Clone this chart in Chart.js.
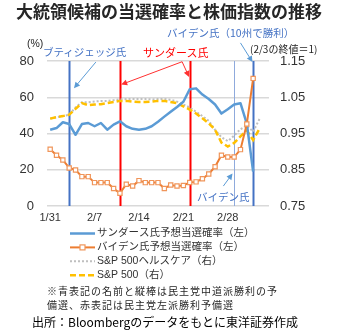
<!DOCTYPE html>
<html>
<head>
<meta charset="utf-8">
<script src="https://cdn.jsdelivr.net/npm/chart.js@4.4.1/dist/chart.umd.min.js"></script>
<style>
body { margin: 0; background: #fff; }
#wrap { position: relative; width: 340px; height: 330px; overflow: hidden; font-family: "Noto Sans CJK JP", sans-serif; color: #262626; }
canvas { position: absolute; left: 0; top: 0; }
.t { position: absolute; white-space: nowrap; line-height: 14px; font-size: 10.5px; }
</style>
</head>
<body>
<div id="wrap">
<canvas id="c" width="340" height="330"></canvas>
<div class="t" style="left:0;width:338px;text-align:center;top:1px;line-height:20px;font-size:17px;font-weight:bold;">大統領候補の当選確率と株価指数の推移</div>
<div class="t" style="left:27px;top:36px;font-family:'Liberation Sans','Noto Sans CJK JP';font-size:10.5px;">(%)</div>
<div class="t" style="left:43px;top:45px;color:#4472C4;">ブティジェッジ氏</div>
<div class="t" style="left:143px;top:45px;color:#FF0000;font-size:11px;">サンダース氏</div>
<div class="t" style="left:167px;top:26px;color:#4472C4;">バイデン氏（10州で勝利）</div>
<div class="t" style="left:250px;top:42px;font-size:10px;">(2/3の終値＝1)</div>
<div class="t" style="left:197px;top:190px;color:#4472C4;">バイデン氏</div>
<div class="t" style="left:47px;top:284px;font-size:10px;letter-spacing:1px;">※青表記の名前と縦棒は民主党中道派勝利の予</div>
<div class="t" style="left:47px;top:298px;font-size:10px;letter-spacing:1px;">備選、赤表記は民主党左派勝利予備選</div>
<div class="t" style="left:32px;top:314px;font-size:12px;line-height:16px;color:#000;">出所：Bloombergのデータをもとに東洋証券作成</div>
</div>
<script>
// 1/31 - 3/5 (daily)
const dates = ['1/31','2/1','2/2','2/3','2/4','2/5','2/6','2/7','2/8','2/9','2/10','2/11','2/12','2/13','2/14',
  '2/15','2/16','2/17','2/18','2/19','2/20','2/21','2/22','2/23','2/24','2/25','2/26','2/27','2/28','2/29',
  '3/1','3/2','3/3','3/4','3/5'];
const shownDates = ['1/31','2/7','2/14','2/21','2/28'];

// left axis (%)
const sanders = [42.1,43.0,46.2,45.2,39.3,45.2,45.8,44.0,45.8,42.1,44.9,46.7,44.0,42.6,42.1,42.6,44.0,46.5,49.3,
  52.0,54.6,57.5,64.4,64.9,61.5,59.0,56.0,51.0,53.4,56.0,56.7,45.5,19.0];
const biden = [31.3,28.0,25.4,21.0,19.9,16.2,16.2,12.9,12.9,12.9,9.7,7.0,12.0,11.0,14.0,12.9,12.9,12.9,9.7,
  11.6,11.0,11.3,13.0,13.3,15.0,17.7,21.7,28.0,27.0,27.0,31.1,45.2,70.4];

// right axis (2/3 close = 1)
const healthcare = [0.991,0.995,0.998,1.002,1.022,1.036,1.036,1.038,1.040,1.040,1.042,1.044,1.045,1.045,1.045,
  1.045,1.044,1.045,1.045,1.043,1.038,1.030,1.022,1.010,0.998,0.985,0.960,0.940,0.929,0.944,0.962,0.972,0.955,0.990];
const sp500 = [0.991,0.995,0.998,1.002,1.018,1.034,1.028,1.030,1.031,1.034,1.037,1.040,1.040,1.038,1.037,
  1.037,1.038,1.040,1.040,1.037,1.034,1.025,1.016,1.005,0.992,0.978,0.960,0.925,0.914,0.924,0.942,0.958,0.932,0.963];

const leftTicks = [0, 20, 40, 60, 80];
const rightTicks = [0.75, 0.85, 0.95, 1.05, 1.15];

// primaries: Iowa, New Hampshire, Nevada, South Carolina, Super Tuesday
const primaryDates = ['2/3','2/11','2/22','2/29','3/3'];
const primaryStyle = [
  { color: '#4472C4', width: 2 },
  { color: '#FF0000', width: 2 },
  { color: '#FF0000', width: 2 },
  { color: '#8FAADC', width: 1 },
  { color: '#4472C4', width: 2 }
];

// annotation arrows in data units [category index, left-axis value]
const arrows = [
  { from: [7.2, 79.4], to: [3.75, 65.0], color: '#5B9BD5' },
  { from: [20.8, 79.6], to: [11.2, 67.0], color: '#FF3030' },
  { from: [20.8, 79.6], to: [21.9, 71.2], color: '#FF3030' },
  { from: [30.0, 90.0], to: [31.9, 79.4], color: '#5B9BD5' },
  { from: [27.3, 11.0], to: [28.75, 17.9], color: '#5B9BD5' }
];

const FONT = '"Liberation Sans", "Noto Sans CJK JP", sans-serif';

const primaryLines = {
  id: 'primaryLines',
  beforeDatasetsDraw(chart) {
    const { ctx, chartArea: a, scales: { x } } = chart;
    ctx.save();
    primaryDates.forEach((d, i) => {
      const px = Math.round(x.getPixelForValue(dates.indexOf(d))) + 0.5;
      ctx.strokeStyle = primaryStyle[i].color;
      ctx.lineWidth = primaryStyle[i].width;
      ctx.beginPath();
      ctx.moveTo(px, a.top);
      ctx.lineTo(px, a.bottom);
      ctx.stroke();
    });
    ctx.restore();
  },
  afterDraw(chart) {
    const { ctx, scales: { x, y } } = chart;
    ctx.save();
    arrows.forEach(ar => {
      const x1 = x.getPixelForValue(ar.from[0]), y1 = y.getPixelForValue(ar.from[1]);
      const x2 = x.getPixelForValue(ar.to[0]), y2 = y.getPixelForValue(ar.to[1]);
      const ang = Math.atan2(y2 - y1, x2 - x1);
      ctx.strokeStyle = ar.color;
      ctx.fillStyle = ar.color;
      ctx.lineWidth = 1;
      ctx.beginPath();
      ctx.moveTo(x1, y1);
      ctx.lineTo(x2 - 4 * Math.cos(ang), y2 - 4 * Math.sin(ang));
      ctx.stroke();
      ctx.beginPath();
      ctx.moveTo(x2, y2);
      ctx.lineTo(x2 - 6 * Math.cos(ang) + 3 * Math.sin(ang), y2 - 6 * Math.sin(ang) - 3 * Math.cos(ang));
      ctx.lineTo(x2 - 6 * Math.cos(ang) - 3 * Math.sin(ang), y2 - 6 * Math.sin(ang) + 3 * Math.cos(ang));
      ctx.closePath();
      ctx.fill();
    });

    // legend
    chart.data.datasets.forEach((ds, i) => {
      const ly = 233.5 + i * 13.9;
      ctx.strokeStyle = ds.borderColor;
      ctx.lineWidth = ds.borderWidth;
      ctx.setLineDash(ds.borderDash || []);
      ctx.beginPath();
      ctx.moveTo(70, ly);
      ctx.lineTo(95, ly);
      ctx.stroke();
      ctx.setLineDash([]);
      if (ds.pointRadius > 0) {
        ctx.fillStyle = '#fff';
        ctx.strokeStyle = ds.pointBorderColor;
        ctx.lineWidth = ds.pointBorderWidth;
        ctx.fillRect(80, ly - 2.5, 5, 5);
        ctx.strokeRect(80, ly - 2.5, 5, 5);
      }
      ctx.fillStyle = '#333';
      ctx.font = '10.5px ' + FONT;
      ctx.textBaseline = 'middle';
      ctx.fillText(ds.label, 97, ly);
    });
    ctx.restore();
  }
};

new Chart(document.getElementById('c'), {
  type: 'line',
  data: {
    labels: dates,
    datasets: [
      {
        label: 'サンダース氏予想当選確率（左）',
        data: sanders,
        yAxisID: 'y',
        borderColor: '#5B9BD5',
        borderWidth: 2.5,
        pointRadius: 0,
        borderJoinStyle: 'round',
        order: 1
      },
      {
        label: 'バイデン氏予想当選確率（左）',
        data: biden,
        yAxisID: 'y',
        borderColor: '#ED7D31',
        borderWidth: 2,
        pointStyle: 'rect',
        pointRadius: 3,
        pointBorderWidth: 1.2,
        pointBorderColor: '#F0955A',
        pointBackgroundColor: '#fff',
        order: 0
      },
      {
        label: 'S&P 500ヘルスケア（右）',
        data: healthcare,
        yAxisID: 'y2',
        borderColor: '#BFBFBF',
        borderWidth: 2,
        borderDash: [2, 2],
        pointRadius: 0,
        order: 3
      },
      {
        label: 'S&P 500（右）',
        data: sp500,
        yAxisID: 'y2',
        borderColor: '#FFC000',
        borderWidth: 2.5,
        borderDash: [6, 3],
        pointRadius: 0,
        order: 2
      }
    ]
  },
  options: {
    responsive: false,
    animation: false,
    devicePixelRatio: 1,
    layout: { padding: { top: 61, left: 0, right: 0, bottom: 0 } },
    plugins: { legend: { display: false }, tooltip: { enabled: false } },
    scales: {
      x: {
        type: 'category',
        offset: true,
        grid: { display: false, drawTicks: false },
        border: { display: false },
        ticks: {
          autoSkip: false, maxRotation: 0, padding: 5, color: '#333',
          font: { size: 11, family: FONT },
          callback: (v, i) => shownDates.includes(dates[i]) ? dates[i] : ''
        },
        afterFit: s => { s.height = 124; }
      },
      y: {
        position: 'left',
        min: 0, max: 80,
        afterBuildTicks: s => { s.ticks = leftTicks.map(v => ({ value: v })); },
        grid: { color: '#D9D9D9', lineWidth: 1.5, drawTicks: false },
        border: { display: false },
        ticks: { padding: 13, color: '#333', font: { size: 13, family: FONT } },
        afterFit: s => { s.width = 47; }
      },
      y2: {
        position: 'right',
        min: 0.75, max: 1.15,
        afterBuildTicks: s => { s.ticks = rightTicks.map(v => ({ value: v })); },
        grid: { display: false, drawTicks: false },
        border: { display: false },
        ticks: { padding: 11, color: '#333', font: { size: 13, family: FONT }, callback: v => v.toFixed(2) },
        afterFit: s => { s.width = 71; }
      }
    }
  },
  plugins: [primaryLines]
});
</script>
</body>
</html>
